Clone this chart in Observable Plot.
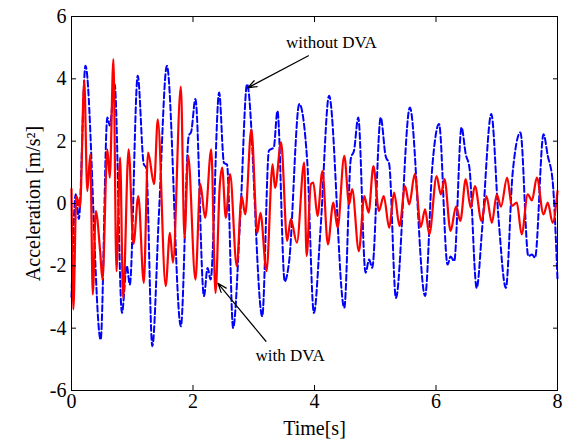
<!DOCTYPE html>
<html>
<head>
<meta charset="utf-8">
<script src="https://cdn.jsdelivr.net/npm/d3@7"></script>
<script src="https://cdn.jsdelivr.net/npm/@observablehq/plot@0.6"></script>
<style>
  html, body { margin: 0; padding: 0; background: #fff; }
  #chart svg { display: block; }
</style>
</head>
<body>
<div id="chart"></div>
<script>
// Without DVA (blue dashed): time [s] and acceleration values
const tWithout = [0.00,0.07,0.12,0.23,0.48,0.59,0.63,0.71,0.83,0.91,0.96,1.09,1.19,1.23,1.33,1.44,1.57,1.80,1.93,1.97,2.04,2.18,2.24,2.29,2.43,2.51,2.56,2.66,2.78,2.89,3.14,3.25,3.33,3.39,3.51,3.58,3.75,3.88,3.99,4.10,4.24,4.49,4.60,4.65,4.72,4.84,4.90,4.95,5.09,5.17,5.23,5.34,5.57,5.82,5.94,6.05,6.19,6.24,6.30,6.42,6.49,6.55,6.67,6.76,6.91,7.03,7.15,7.26,7.39,7.52,7.58,7.63,7.77,7.84,7.92,8.00];
const aWithout = [-3.0,0.3,-0.5,4.42,-4.37,2.76,2.5,3.83,-3.51,-2.0,-2.6,4.1,1.26,1.15,-4.58,-0.3,4.42,-3.94,2.17,2.3,3.35,-2.97,-2.07,-2.44,3.56,1.3,1.25,-3.99,-0.35,3.83,-3.62,1.7,1.8,2.97,-2.5,-1.9,3.19,1.37,-3.51,-0.8,3.46,-3.35,1.47,1.69,2.76,-2.22,-1.8,-2.06,2.76,1.53,1.26,-3.03,3.08,-2.97,1.2,2.55,-1.96,-1.7,-1.85,2.44,1.58,1.15,-2.71,-0.8,2.87,-0.5,-2.71,0.94,2.28,-1.69,-1.64,-1.74,2.22,1.53,0.72,-2.43];

// With DVA (red solid)
const tWith = [0.00,0.03,0.08,0.14,0.21,0.26,0.31,0.35,0.40,0.47,0.51,0.59,0.63,0.69,0.74,0.80,0.85,0.94,1.02,1.10,1.19,1.26,1.36,1.42,1.55,1.62,1.67,1.80,1.86,1.92,2.04,2.12,2.20,2.30,2.37,2.44,2.48,2.54,2.61,2.72,2.80,2.86,2.96,3.06,3.11,3.21,3.31,3.35,3.45,3.55,3.61,3.71,3.83,3.87,3.94,3.98,4.05,4.13,4.22,4.31,4.38,4.49,4.57,4.62,4.73,4.82,4.89,4.97,5.06,5.14,5.23,5.31,5.40,5.49,5.56,5.65,5.75,5.82,5.89,6.01,6.08,6.14,6.24,6.33,6.40,6.49,6.57,6.64,6.75,6.83,6.92,7.00,7.07,7.17,7.25,7.33,7.41,7.51,7.58,7.66,7.77,7.84,7.92,8.00];
const aWith = [0.46,-3.4,0.24,-0.13,3.94,0.4,1.58,-2.92,-0.24,-1.5,-2.44,1.74,0.83,4.63,-2.17,1.47,-3.03,1.74,-1.3,0.24,-2.55,1.63,0.62,2.7,-2.65,-0.94,-1.9,3.75,-1.1,1.53,-2.44,0.62,-0.46,1.74,-2.87,0.56,1.15,-0.46,0.94,-2.01,0.24,-0.35,2.38,-0.94,-0.3,-2.17,1.26,0.5,1.96,-1.2,-0.5,-1.26,1.31,-1.69,0.62,0.67,-0.4,1.04,-1.31,0.03,-0.78,1.53,-0.03,0.46,-1.53,0.24,-0.29,1.2,-0.24,0.24,-0.78,0.35,-0.72,0.56,-0.03,0.94,-0.75,-0.19,-0.99,0.88,0.29,0.78,-0.88,-0.1,-0.56,0.78,-0.13,0.56,-0.56,0.24,-0.62,0.29,-0.1,0.83,-0.08,0.03,-0.99,0.29,0.1,0.83,-0.35,0.03,-0.62,0.4];

// Axis ticks
const xTicks = [0, 2, 4, 6, 8];
const yTicks = [-6, -4, -2, 0, 2, 4, 6];

// Annotations
const annLabels = ["without DVA", "with DVA"];
const annTextX = [3.53, 3.03];
const annTextY = [5.15, -4.87];
const arrowX1 = [3.90, 3.20];
const arrowY1 = [4.74, -4.42];
const arrowX2 = [2.90, 2.41];
const arrowY2 = [3.71, -2.56];

const blue = tWithout.map((t, i) => ({t, a: aWithout[i]}));
const red = tWith.map((t, i) => ({t, a: aWith[i]}));
const ann = annLabels.map((label, i) => ({label, x: annTextX[i], y: annTextY[i], x1: arrowX1[i], y1: arrowY1[i], x2: arrowX2[i], y2: arrowY2[i]}));

const fmt = d => String(d);
const serif = "'Liberation Serif', 'Times New Roman', serif";

const chart = Plot.plot({
  width: 568,
  height: 440,
  marginLeft: 71,
  marginRight: 11,
  marginTop: 16,
  marginBottom: 50,
  style: {fontFamily: serif, background: "#fff", color: "#000"},
  x: {domain: [0, 8]},
  y: {domain: [-6, 6]},
  marks: [
    Plot.line(blue, {x: "t", y: "a", stroke: "#0000ff", strokeWidth: 2, strokeDasharray: "6,3", curve: "monotone-x"}),
    Plot.line(red, {x: "t", y: "a", stroke: "#ff0000", strokeWidth: 2.2, curve: "monotone-x"}),
    Plot.frame({stroke: "#000", strokeWidth: 1}),
    Plot.axisX(xTicks, {anchor: "bottom", tickSize: 0, tickPadding: 3, tickFormat: fmt, fontSize: 20, fontFamily: serif, label: "Time[s]", labelAnchor: "center", labelOffset: 44, labelArrow: "none"}),
    Plot.axisX(xTicks, {anchor: "bottom", tickSize: -5, text: null, label: null}),
    Plot.axisX(xTicks, {anchor: "top", tickSize: -5, text: null, label: null}),
    Plot.axisY(yTicks, {anchor: "left", tickSize: 0, tickPadding: 5, tickFormat: fmt, fontSize: 20, fontFamily: serif, label: "Acceleration [m/s²]", labelAnchor: "center", labelOffset: 46, labelArrow: "none"}),
    Plot.axisY(yTicks, {anchor: "left", tickSize: -5, text: null, label: null}),
    Plot.axisY(yTicks, {anchor: "right", tickSize: -5, text: null, label: null}),
    Plot.arrow(ann, {x1: "x1", y1: "y1", x2: "x2", y2: "y2", stroke: "#000", strokeWidth: 1.2, headLength: 12, headAngle: 40}),
    Plot.text(ann, {x: "x", y: "y", text: "label", textAnchor: "start", fontSize: 17, fontFamily: serif, fill: "#000"})
  ]
});
document.getElementById("chart").appendChild(chart);
</script>
</body>
</html>
